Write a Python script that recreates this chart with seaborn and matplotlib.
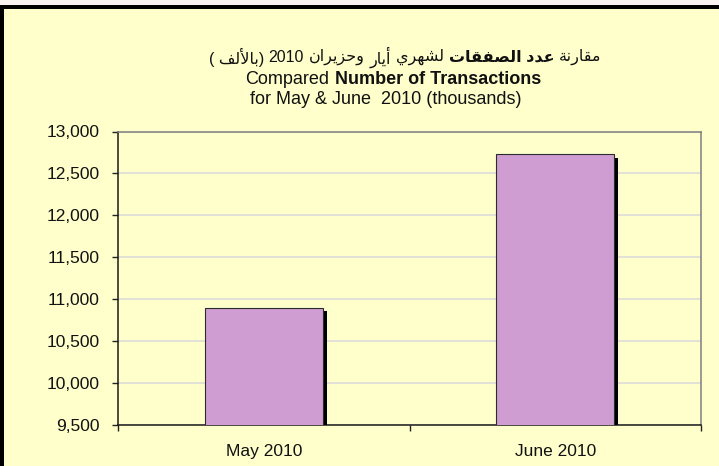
import matplotlib
matplotlib.use("Agg")
import matplotlib.pyplot as plt
import matplotlib.patheffects as pe
from matplotlib.ticker import FixedLocator, StrMethodFormatter
from matplotlib.patches import Rectangle
import seaborn as sns

# data (thousands of transactions)
months = ["May 2010", "June 2010"]
transactions = [10900, 12735]
y_ticks = [9500, 10000, 10500, 11000, 11500, 12000, 12500, 13000]

title_en_1 = ["Compared", "Number of Transactions"]
title_en_2 = "for May & June  2010 (thousands)"

# arabic presentation forms: isolated, final, initial, medial
FORMS = {
    'ا': ('\ufe8d', '\ufe8e'), 'أ': ('\ufe83', '\ufe84'), 'د': ('\ufea9', '\ufeaa'),
    'ر': ('\ufead', '\ufeae'), 'ز': ('\ufeaf', '\ufeb0'), 'و': ('\ufeed', '\ufeee'),
    'ة': ('\ufe93', '\ufe94'),
    'ب': ('\ufe8f', '\ufe90', '\ufe91', '\ufe92'), 'ت': ('\ufe95', '\ufe96', '\ufe97', '\ufe98'),
    'ح': ('\ufea1', '\ufea2', '\ufea3', '\ufea4'), 'ش': ('\ufeb5', '\ufeb6', '\ufeb7', '\ufeb8'),
    'ص': ('\ufeb9', '\ufeba', '\ufebb', '\ufebc'), 'ع': ('\ufec9', '\ufeca', '\ufecb', '\ufecc'),
    'ف': ('\ufed1', '\ufed2', '\ufed3', '\ufed4'), 'ق': ('\ufed5', '\ufed6', '\ufed7', '\ufed8'),
    'ل': ('\ufedd', '\ufede', '\ufedf', '\ufee0'), 'م': ('\ufee1', '\ufee2', '\ufee3', '\ufee4'),
    'ن': ('\ufee5', '\ufee6', '\ufee7', '\ufee8'), 'ه': ('\ufee9', '\ufeea', '\ufeeb', '\ufeec'),
    'ي': ('\ufef1', '\ufef2', '\ufef3', '\ufef4'),
}
LAM_ALEF = {'ا': ('\ufefb', '\ufefc'), 'أ': ('\ufef7', '\ufef8')}


def shape(word):
    """ matplotlib does no arabic shaping, so pick the joined forms by hand and
    return the word in visual (left to right) order """
    letters = []
    i = 0
    while i < len(word):
        if word[i] == 'ل' and i + 1 < len(word) and word[i + 1] in LAM_ALEF:
            letters.append(('LA', word[i + 1]))
            i += 2
        else:
            letters.append(word[i])
            i += 1
    out = []
    for k, ch in enumerate(letters):
        prev = letters[k - 1] if k > 0 else None
        nxt = letters[k + 1] if k + 1 < len(letters) else None
        joins_prev = isinstance(prev, str) and prev in FORMS and len(FORMS[prev]) == 4
        if isinstance(ch, tuple):
            f = LAM_ALEF[ch[1]]
            out.append(f[1] if joins_prev else f[0])
            continue
        if ch not in FORMS:
            out.append(ch)
            continue
        f = FORMS[ch]
        joins_next = len(f) == 4 and nxt is not None and (isinstance(nxt, tuple) or nxt in FORMS)
        if joins_prev and joins_next:
            out.append(f[3])
        elif joins_prev:
            out.append(f[1])
        elif joins_next:
            out.append(f[2])
        else:
            out.append(f[0])
    return ''.join(reversed(out))


# arabic title, pieces in visual order left -> right, (text, bold)
title_ar = [
    ("( " + shape("بالألف") + ")", False),
    ("2010", False),
    (shape("وحزيران"), False),
    (shape("أيار"), False),
    (shape("لشهري"), False),
    (shape("الصفقات") + " " + shape("عدد"), True),
    (shape("مقارنة"), False),
]

sns.set_style("white")
plt.rcParams['font.family'] = ['Liberation Sans', 'DejaVu Sans']

BG = "#FFFFCC"
fig = plt.figure(figsize=(7.19, 4.66), dpi=100, facecolor=BG)
W, H = 719, 466
ax = fig.add_axes([118 / W, 1 - 425 / H, (701 - 118) / W, (425 - 131.5) / H])
ax.set_facecolor(BG)

sns.barplot(x=months, y=transactions, color="#CF9DD2", saturation=1, width=0.405,
            edgecolor="#2b2b2b", linewidth=0.8, ax=ax, zorder=3)
for bar in ax.patches:
    bar.set_path_effects([pe.SimplePatchShadow(offset=(2.8, -2.8), shadow_rgbFace="black", alpha=1),
                          pe.Normal()])

ax.set_ylim(9500, 13000)
ax.set_xlim(-0.5, 1.5)
ax.set_yticks(y_ticks)
ax.yaxis.set_major_formatter(StrMethodFormatter("{x:,.0f}"))
ax.yaxis.grid(True, color="#d9d9d9", linewidth=1.1, zorder=0)
ax.set_axisbelow(True)

# category borders get the ticks, labels sit in between
ax.xaxis.set_major_locator(FixedLocator([-0.5, 0.5, 1.5]))
ax.xaxis.set_minor_locator(FixedLocator([0, 1]))
ax.set_xticklabels([], minor=False)
ax.set_xticklabels(months, minor=True)
ax.tick_params(axis="x", which="major", direction="out", length=4, width=1, color="#222222", bottom=True)
ax.tick_params(axis="x", which="minor", length=0, pad=14, labelsize=12.5, labelcolor="#111111")
ax.tick_params(axis="y", direction="out", length=4, width=1, color="#222222", left=True,
               pad=9, labelsize=12.5, labelcolor="#111111")
ax.set_xlabel("")
ax.set_ylabel("")

for side in ["left", "bottom"]:
    ax.spines[side].set_color("#1a1a1a")
    ax.spines[side].set_linewidth(1.1)
for side in ["top", "right"]:
    ax.spines[side].set_color("#7f7f7f")
    ax.spines[side].set_linewidth(1.1)

# slide frame: white strip on top, thick black border
fig.patches.append(Rectangle((0, 1 - 5 / H), 1, 5 / H, transform=fig.transFigure,
                             facecolor="#fbf3f3", edgecolor="none", zorder=0))
fig.patches.append(Rectangle((0, 1 - 9 / H), 1, 4 / H, transform=fig.transFigure,
                             facecolor="black", edgecolor="none", zorder=1))
fig.patches.append(Rectangle((0, 0), 4 / W, 1 - 5 / H, transform=fig.transFigure,
                             facecolor="black", edgecolor="none", zorder=1))


def text_line(parts, cx, cy, size):
    """ put text pieces next to each other, the whole row centred on cx (pixels) """
    renderer = fig.canvas.get_renderer()
    gap = size * 0.3 * 100 / 72
    items = []
    for txt, bold in parts:
        t = fig.text(0, 1 - cy / H, txt, fontsize=size, fontweight="bold" if bold else "normal",
                     va="center", ha="left", color="#111111")
        items.append(t)
    widths = [t.get_window_extent(renderer).width for t in items]
    total = sum(widths) + gap * (len(items) - 1)
    x = cx - total / 2
    for t, w in zip(items, widths):
        t.set_x(x / W)
        x += w + gap


text_line(title_ar, 405, 57, 11.5)
text_line([(title_en_1[0], False), (title_en_1[1], True)], 393, 79, 13)
text_line([(title_en_2, False)], 386, 100, 13)

fig.savefig("out.png", dpi=100, facecolor=BG)
